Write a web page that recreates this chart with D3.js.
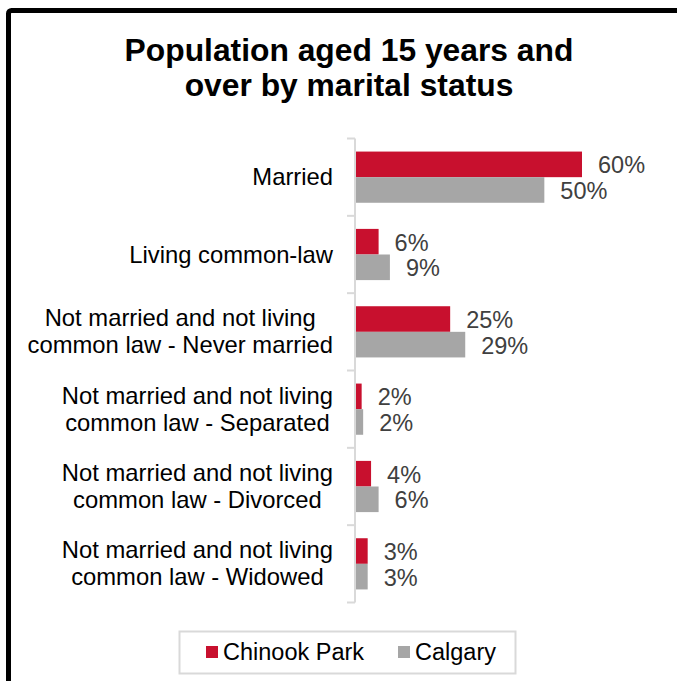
<!DOCTYPE html>
<html>
<head>
<meta charset="utf-8">
<script src="https://cdn.jsdelivr.net/npm/d3@7"></script>
<style>
  html, body { margin: 0; padding: 0; background: #fff; }
  svg { display: block; font-family: "Liberation Sans", Arial, sans-serif; }
</style>
</head>
<body>
<svg id="chart" width="677" height="681"></svg>
<script>
const titleLines = ["Population aged 15 years and", "over by marital status"];
const categories = [
  ["Married"],
  ["Living common-law"],
  ["Not married and not living", "common law - Never married"],
  ["Not married and not living", "common law - Separated"],
  ["Not married and not living", "common law - Divorced"],
  ["Not married and not living", "common law - Widowed"]
];
const seriesNames = ["Chinook Park", "Calgary"];
const chinookPark = [0.60, 0.06, 0.25, 0.015, 0.04, 0.031];
const calgary = [0.50, 0.09, 0.29, 0.019, 0.06, 0.031];
const colors = ["#C8102E", "#A6A6A6"];

const svg = d3.select("#chart");

// outer frame
svg.append("rect")
  .attr("x", 8.5).attr("y", 10.5)
  .attr("width", 720).attr("height", 720)
  .attr("rx", 3)
  .attr("fill", "none").attr("stroke", "#000").attr("stroke-width", 5);

// title
svg.append("text")
  .attr("text-anchor", "middle")
  .attr("font-weight", "bold")
  .attr("font-size", 31.8)
  .attr("fill", "#000")
  .selectAll("tspan").data(titleLines).join("tspan")
  .attr("x", 349)
  .attr("y", (d, i) => 61 + i * 35)
  .text(d => d);

const idx = d3.range(categories.length);
const y = d3.scaleBand().domain(idx).range([138.5, 602.5]);
const x = d3.scaleLinear().domain([0, 0.60]).range([356, 582]);
const sub = d3.scaleBand().domain([0, 1])
  .range([y.bandwidth() / 2 - 25.6, y.bandwidth() / 2 + 25.6]);

// axis line + ticks
const axis = d3.axisLeft(y).tickSize(0).tickFormat("");
const axisG = svg.append("g").attr("transform", "translate(355,0)").call(axis);
axisG.select(".domain").attr("stroke", "#D9D9D9").attr("stroke-width", 2)
  .attr("d", `M0,${y.range()[0]}V${y.range()[1]}`);
const boundaries = idx.map(i => y(i)).concat([y.range()[1]]);
svg.append("g").selectAll("line").data(boundaries).join("line")
  .attr("x1", 347).attr("x2", 355)
  .attr("y1", d => d).attr("y2", d => d)
  .attr("stroke", "#D9D9D9").attr("stroke-width", 2);

// category labels: block right-aligned at 333, lines centred within block
const catG = svg.append("g")
  .attr("font-size", 23.8).attr("fill", "#000").attr("text-anchor", "middle");
catG.selectAll("text").data(idx).join("text")
  .each(function(i) {
    const lines = categories[i];
    const c = y(i) + y.bandwidth() / 2;
    const lh = 27;
    const base = c + 8 - (lines.length - 1) * lh / 2;
    const t = d3.select(this);
    const spans = t.selectAll("tspan").data(lines).join("tspan")
      .attr("y", (d, k) => base + k * lh)
      .text(d => d);
    let maxW = 0;
    spans.each(function() { maxW = Math.max(maxW, this.getComputedTextLength()); });
    spans.attr("x", 333 - maxW / 2);
  });

// bars
const series = [chinookPark, calgary];
const fmt = d3.format(".0%");
series.forEach((vals, s) => {
  const g = svg.append("g");
  g.selectAll("rect").data(vals).join("rect")
    .attr("x", x(0))
    .attr("y", (d, i) => y(i) + sub(s))
    .attr("width", d => x(d) - x(0))
    .attr("height", sub.bandwidth())
    .attr("fill", colors[s]);
  g.selectAll("text").data(vals).join("text")
    .attr("x", d => x(d) + 16)
    .attr("y", (d, i) => y(i) + sub(s) + sub.bandwidth() / 2 + 9)
    .attr("font-size", 23.5)
    .attr("fill", "#404040")
    .text(d => fmt(d));
});

// legend
const lg = svg.append("g");
lg.append("rect")
  .attr("x", 179.5).attr("y", 631.5).attr("width", 336).attr("height", 42)
  .attr("fill", "#fff").attr("stroke", "#D9D9D9").attr("stroke-width", 2);
const legendX = [206, 398];
seriesNames.forEach((name, s) => {
  lg.append("rect")
    .attr("x", legendX[s]).attr("y", 646).attr("width", 12).attr("height", 12)
    .attr("fill", colors[s]);
  lg.append("text")
    .attr("x", legendX[s] + 17).attr("y", 660)
    .attr("font-size", 23.5).attr("fill", "#000")
    .text(name);
});
</script>
</body>
</html>
